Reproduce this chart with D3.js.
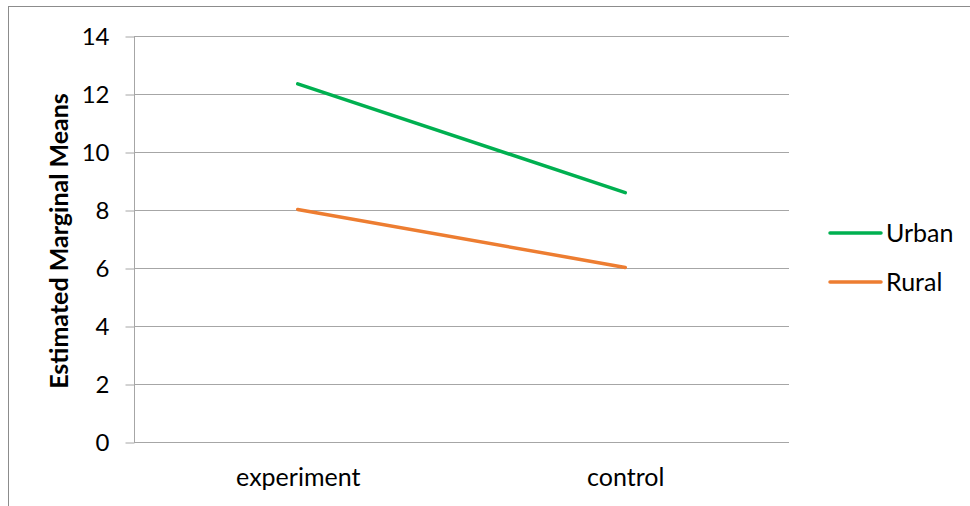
<!DOCTYPE html>
<html>
<head>
<meta charset="utf-8">
<script src="https://cdn.jsdelivr.net/npm/d3@7"></script>
<style>
  body { margin: 0; background: #fff; }
  text { font-family: Lato, "Open Sans", sans-serif; fill: #000; }
</style>
</head>
<body>
<svg id="chart" width="970" height="506"></svg>
<script>
// data
const categories = ["experiment", "control"];
const urban = [12.35, 8.6];
const rural = [8.02, 6.02];
const seriesNames = ["Urban", "Rural"];
const seriesColors = ["#00b050", "#ed7d31"];
const yTicks = [0, 2, 4, 6, 8, 10, 12, 14];

const svg = d3.select("#chart");
const margin = { left: 134, right: 789, top: 36, bottom: 442 };
const fs = "25px";

// outer chart frame
svg.append("rect")
  .attr("x", 8.5).attr("y", 6.5)
  .attr("width", 975).attr("height", 520)
  .attr("fill", "none").attr("stroke", "#8c8c8c").attr("stroke-width", 1);

const x = d3.scalePoint().domain(categories)
  .range([margin.left, margin.right]).padding(0.5);
const y = d3.scaleLinear().domain([0, 14]).range([margin.bottom, margin.top]);

// gridlines
svg.append("g").selectAll("line")
  .data(yTicks.filter(d => d > 0))
  .join("line")
  .attr("x1", margin.left).attr("x2", margin.right)
  .attr("y1", d => Math.round(y(d)) + 0.5).attr("y2", d => Math.round(y(d)) + 0.5)
  .attr("stroke", "#a6a6a6");

// y axis
const yAxis = svg.append("g")
  .attr("transform", `translate(${margin.left + 0.5},0.5)`)
  .call(d3.axisLeft(y).tickValues(yTicks).tickSize(9).tickPadding(16).tickFormat(d3.format("d")));
yAxis.select(".domain").attr("stroke", "#a6a6a6").attr("d", `M0,${y(14)}V${y(0)}`);
yAxis.selectAll(".tick line").attr("stroke", "#a6a6a6");
yAxis.selectAll(".tick text").style("font-size", "24px").attr("fill", "#000");

// x axis
const xAxis = svg.append("g")
  .attr("transform", `translate(0,${Math.round(y(0)) + 0.5})`)
  .call(d3.axisBottom(x).tickSize(0).tickPadding(26));
xAxis.select(".domain").attr("stroke", "#a6a6a6").attr("d", `M${margin.left},0H${margin.right}`);
xAxis.selectAll(".tick text").style("font-size", fs).attr("fill", "#000");

// y axis title
svg.append("text")
  .attr("transform", `translate(68,${(margin.top + margin.bottom) / 2 + 2}) rotate(-90)`)
  .attr("text-anchor", "middle")
  .style("font-size", fs).style("font-weight", "bold")
  .text("Estimated Marginal Means");

// lines
const line = d3.line().x((d, i) => x(categories[i])).y(d => y(d));
[urban, rural].forEach((vals, i) => {
  svg.append("path")
    .datum(vals)
    .attr("d", line)
    .attr("fill", "none")
    .attr("stroke", seriesColors[i])
    .attr("stroke-width", 3.5)
    .attr("stroke-linecap", "round");
});

// legend
const legend = svg.append("g");
seriesNames.forEach((name, i) => {
  const ly = 233 + i * 49;
  legend.append("line")
    .attr("x1", 830).attr("x2", 881)
    .attr("y1", ly).attr("y2", ly)
    .attr("stroke", seriesColors[i]).attr("stroke-width", 3.5)
    .attr("stroke-linecap", "round");
  legend.append("text")
    .attr("x", 886).attr("y", ly)
    .attr("dy", "0.35em")
    .style("font-size", fs)
    .text(name);
});
</script>
</body>
</html>
